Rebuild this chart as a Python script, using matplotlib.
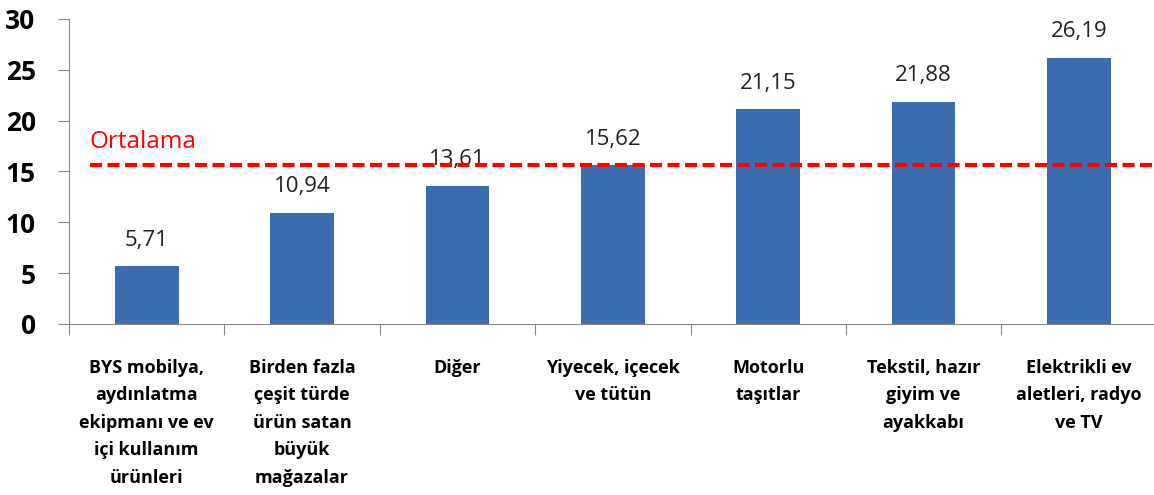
import numpy as np
import matplotlib
matplotlib.use("Agg")
import matplotlib.pyplot as plt

# Kategoriler ve değerler
categories = [
    "BYS mobilya,\naydınlatma\nekipmanı ve ev\niçi kullanım\nürünleri",
    "Birden fazla\nçeşit türde\nürün satan\nbüyük\nmağazalar",
    "Diğer",
    "Yiyecek, içecek\nve tütün",
    "Motorlu\ntaşıtlar",
    "Tekstil, hazır\ngiyim ve\nayakkabı",
    "Elektrikli ev\naletleri, radyo\nve TV",
]
values = [5.71, 10.94, 13.61, 15.62, 21.15, 21.88, 26.19]
value_labels = ["5,71", "10,94", "13,61", "15,62", "21,15", "21,88", "26,19"]
average = 15.65
average_label = "Ortalama"
y_ticks = [0, 5, 10, 15, 20, 25, 30]

plt.rcParams['font.family'] = ['Open Sans', 'DejaVu Sans']

fig = plt.figure(figsize=(11.54, 4.95), dpi=100)
ax = fig.add_axes([0.0598, 0.3455, 0.9425, 0.6162])

x = np.arange(len(values))
ax.bar(x, values, width=0.41, color='#3D6DB1', zorder=2)

for xi, v, lab in zip(x, values, value_labels):
    ax.annotate(lab, (xi, v), xytext=(0, 11), textcoords='offset points',
                ha='center', va='bottom', fontsize=16, color='#222222')

# Ortalama çizgisi
ax.plot([-0.365, 6.6], [average, average], color='red', lw=3,
        dashes=(2.9, 1.3), zorder=3, clip_on=False)
ax.text(-0.365, average + 1.1, average_label, color='red', fontsize=17.5,
        ha='left', va='bottom')

ax.set_xlim(-0.5, 6.5)
ax.set_ylim(0, 30)

ax.set_yticks(y_ticks)
ax.set_yticklabels([str(t) for t in y_ticks], fontsize=19, fontweight='bold')
ax.tick_params(axis='y', length=8, color='#888888', pad=16)

ax.set_xticks(np.arange(len(values) + 1) - 0.5)
ax.set_xticklabels([])
ax.set_xticks(x, minor=True)
ax.set_xticklabels(categories, minor=True, fontsize=13, fontweight='bold',
                   linespacing=1.68)
ax.tick_params(axis='x', which='major', length=8, color='#888888')
ax.tick_params(axis='x', which='minor', length=0, pad=25)

for s in ['top', 'right']:
    ax.spines[s].set_visible(False)
for s in ['left', 'bottom']:
    ax.spines[s].set_color('#888888')

fig.savefig('out.png', dpi=100)
